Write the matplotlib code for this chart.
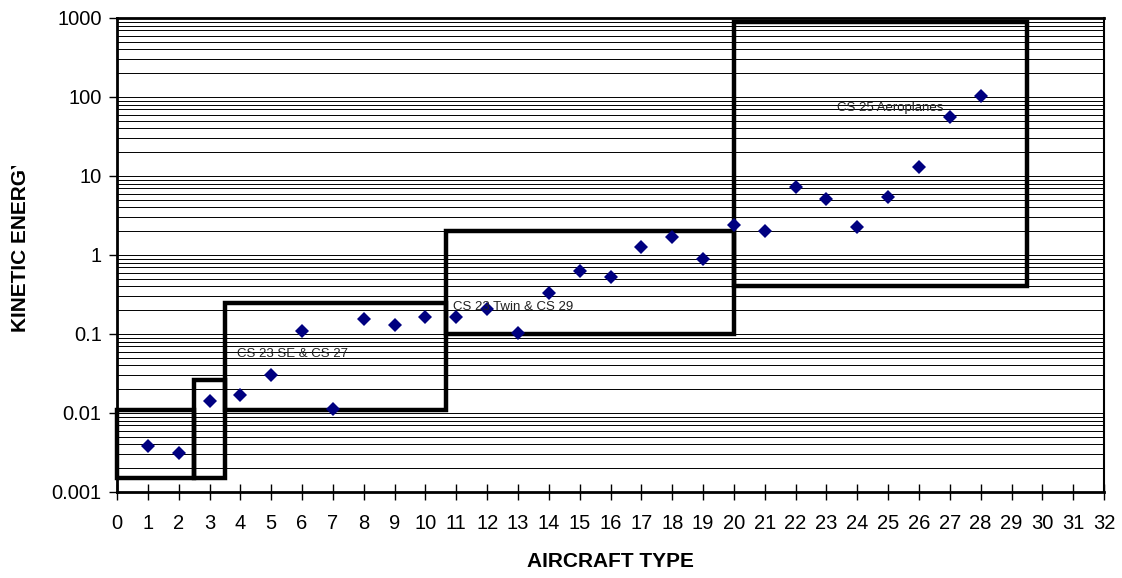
import numpy as np
import matplotlib.pyplot as plt
from matplotlib.patches import Rectangle
from matplotlib.ticker import LogLocator, FixedLocator, NullFormatter
from matplotlib.transforms import Bbox

plt.rcParams['font.family'] = ['Liberation Sans', 'DejaVu Sans']

# Datos
tipo_avion = list(range(1, 29))
energia = [0.0038, 0.0031, 0.0143, 0.0169, 0.0303, 0.109, 0.0112, 0.155, 0.130, 0.164,
           0.166, 0.207, 0.104, 0.333, 0.627, 0.526, 1.26, 1.67, 0.89, 2.4,
           2.0, 7.2, 5.07, 2.26, 5.37, 12.9, 55.3, 104]

# Cajas de categorias (x0, x1, y0, y1)
caja_x0 = [0, 2.5, 3.5, 10.65, 20]
caja_x1 = [2.5, 3.5, 10.65, 20, 29.5]
caja_y0 = [0.0015, 0.0015, 0.011, 0.1, 0.4]
caja_y1 = [0.011, 0.026, 0.25, 2.0, 900]

etiquetas = ['CS 23 SE & CS 27', 'CS 23 Twin & CS 29', 'CS 25 Aeroplanes']
etiq_x = [3.9, 10.9, 23.35]
etiq_y = [0.056, 0.221, 72]

fig = plt.figure(figsize=(11.22, 5.78), dpi=100)
ax = fig.add_axes([0.1043, 0.1488, 0.8797, 0.8201])

ax.set_yscale('log')
ax.set_xlim(0, 32)
ax.set_ylim(0.001, 1000)

# Rejilla horizontal (mayor y menor)
ax.yaxis.set_major_locator(LogLocator(base=10, numticks=10))
ax.yaxis.set_minor_locator(LogLocator(base=10, subs=np.arange(2, 10), numticks=10))
ax.yaxis.set_minor_formatter(NullFormatter())
ax.grid(axis='y', which='both', color='black', linewidth=0.7)
ax.set_axisbelow(True)

ax.set_yticks([0.001, 0.01, 0.1, 1, 10, 100, 1000])
ax.set_yticklabels(['0.001', '0.01', '0.1', '1', '10', '100', '1000'])
ax.xaxis.set_major_locator(FixedLocator(range(0, 33)))

ax.tick_params(axis='y', which='major', direction='out', length=6, width=1, labelsize=14.5, pad=5)
ax.tick_params(axis='y', which='minor', length=0)
ax.tick_params(axis='x', direction='inout', length=11, width=1, labelsize=14.5, pad=10)

for lado in ['left', 'bottom', 'top']:
    ax.spines[lado].set_linewidth(2)
ax.spines['right'].set_linewidth(1.5)

# Cajas
for x0, x1, y0, y1 in zip(caja_x0, caja_x1, caja_y0, caja_y1):
    ax.add_patch(Rectangle((x0, y0), x1 - x0, y1 - y0, fill=False, edgecolor='black',
                           linewidth=3.2, joinstyle='miter', clip_on=False, zorder=3))

ax.plot(tipo_avion, energia, linestyle='none', marker='D', markersize=6.8,
        color='#000080', markeredgewidth=0, zorder=4)

for txt, x, y in zip(etiquetas, etiq_x, etiq_y):
    ax.text(x, y, txt, fontsize=9.5, ha='left', va='center', color='#222222', zorder=5)

ax.set_xlabel('AIRCRAFT TYPE', fontsize=15, fontweight='bold', labelpad=14)

# Titulo del eje Y recortado como en el original
ylab = fig.text(21 / 1122, 1 - 244 / 578, 'KINETIC ENERGY', rotation=90, fontsize=15,
                fontweight='bold', ha='center', va='center')
ylab.set_clip_box(Bbox.from_extents(0, 0, 60, 578 - 166))
ylab.set_clip_on(True)

plt.savefig('out.png', dpi=100)
